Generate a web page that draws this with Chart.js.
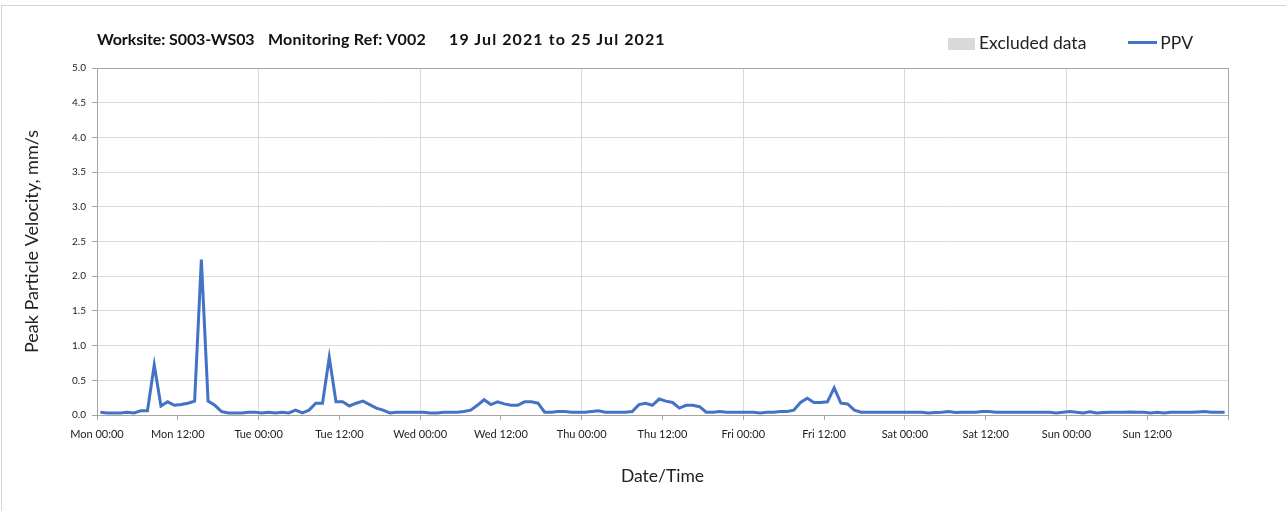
<!DOCTYPE html>
<html>
<head>
<meta charset="utf-8">
<script src="https://cdn.jsdelivr.net/npm/chart.js@4.4.1/dist/chart.umd.min.js"></script>
<style>
  html, body { margin: 0; padding: 0; background: #fff; }
  body { width: 1286px; height: 511px; position: relative; overflow: hidden; font-family: Lato, "Open Sans", sans-serif; }
  #frame { position: absolute; left: 1px; top: 5px; width: 1290px; height: 520px; border-left: 1px solid #d6d6d6; border-top: 1px solid #d6d6d6; }
  .tt { position: absolute; top: 29px; font-size: 16px; font-weight: bold; color: #111; white-space: nowrap; }
  #legend { position: absolute; left: 948px; top: 32px; font-size: 17.5px; color: #222; white-space: nowrap; }
  #legend .box { display: inline-block; width: 27px; height: 12px; background: #d9d9d9; vertical-align: -1px; margin-right: 4px; }
  #legend .ln { display: inline-block; width: 29px; height: 3px; background: #4472c4; vertical-align: 5px; margin-left: 42px; margin-right: 3px; }
  #wrap { position: absolute; left: 0; top: 0; width: 1286px; height: 511px; }
</style>
</head>
<body>
<div id="frame"></div>
<div id="wrap"><canvas id="myChart"></canvas></div>
<div class="tt" style="left:97px;letter-spacing:-0.1px">Worksite: S003-WS03</div>
<div class="tt" style="left:268px;letter-spacing:0.2px">Monitoring Ref: V002</div>
<div class="tt" style="left:449px;letter-spacing:1.1px">19 Jul 2021 to 25 Jul 2021</div>
<div id="legend"><span class="box"></span>Excluded data<span class="ln"></span>PPV</div>
<script>
(function () {
  'use strict';

  // hourly PPV readings, Mon 19 Jul 00:00 -> Sun 25 Jul 24:00 (mm/s)
  var days = ['Mon', 'Tue', 'Wed', 'Thu', 'Fri', 'Sat', 'Sun', 'Mon'];
  var yTicks = [0, 0.5, 1, 1.5, 2, 2.5, 3, 3.5, 4, 4.5, 5];
  var ppvMon = [0.04, 0.03, 0.03, 0.03, 0.04, 0.03, 0.06, 0.06, 0.72, 0.13, 0.19, 0.14,
                0.15, 0.17, 0.20, 2.24, 0.20, 0.14, 0.05, 0.03, 0.03, 0.03, 0.04, 0.04];
  var ppvTue = [0.03, 0.04, 0.03, 0.04, 0.03, 0.07, 0.03, 0.07, 0.17, 0.17, 0.83, 0.19,
                0.19, 0.13, 0.17, 0.20, 0.15, 0.10, 0.07, 0.03, 0.04, 0.04, 0.04, 0.04];
  var ppvWed = [0.04, 0.03, 0.03, 0.04, 0.04, 0.04, 0.05, 0.07, 0.14, 0.22, 0.15, 0.19,
                0.16, 0.14, 0.14, 0.19, 0.19, 0.17, 0.04, 0.04, 0.05, 0.05, 0.04, 0.04];
  var ppvThu = [0.04, 0.05, 0.06, 0.04, 0.04, 0.04, 0.04, 0.05, 0.15, 0.17, 0.14, 0.23,
                0.20, 0.18, 0.10, 0.14, 0.14, 0.12, 0.04, 0.04, 0.05, 0.04, 0.04, 0.04];
  var ppvFri = [0.04, 0.04, 0.03, 0.04, 0.04, 0.05, 0.05, 0.07, 0.18, 0.24, 0.18, 0.18,
                0.19, 0.39, 0.17, 0.16, 0.07, 0.04, 0.04, 0.04, 0.04, 0.04, 0.04, 0.04];
  var ppvSat = [0.04, 0.04, 0.04, 0.03, 0.035, 0.04, 0.05, 0.035, 0.04, 0.04, 0.04, 0.05,
                0.05, 0.04, 0.04, 0.04, 0.04, 0.04, 0.04, 0.04, 0.04, 0.04, 0.03, 0.04];
  var ppvSun = [0.05, 0.04, 0.03, 0.045, 0.03, 0.035, 0.04, 0.04, 0.04, 0.045, 0.04, 0.04,
                0.03, 0.04, 0.03, 0.04, 0.04, 0.04, 0.04, 0.045, 0.05, 0.04, 0.04, 0.04];

  var ppv = [].concat(ppvMon, ppvTue, ppvWed, ppvThu, ppvFri, ppvSat, ppvSun);
  var points = ppv.map(function (v, i) { return { x: i + 0.5, y: v }; });

  var frameBox = {
    id: 'frameBox',
    afterDraw: function (chart) {
      var a = chart.chartArea, c = chart.ctx;
      c.save();
      c.strokeStyle = '#a6a6a6';
      c.lineWidth = 1;
      c.strokeRect(Math.round(a.left) + 0.5, Math.round(a.top) + 0.5, Math.round(a.right - a.left), Math.round(a.bottom - a.top));
      c.restore();
    }
  };

  var ctx = document.getElementById('myChart').getContext('2d');
  var myChart = new Chart(ctx, {
    type: 'line',
    data: {
      datasets: [{
        label: 'PPV',
        data: points,
        borderColor: '#4472c4',
        borderWidth: 3,
        pointRadius: 0,
        tension: 0,
        fill: false
      }]
    },
    plugins: [frameBox],
    options: {
      responsive: false,
      animation: false,
      maintainAspectRatio: false,
      layout: { padding: { top: 68, right: 58, left: 0, bottom: 0 } },
      plugins: {
        legend: { display: false },
        title: { display: false },
        tooltip: { enabled: false }
      },
      scales: {
        x: {
          type: 'linear',
          min: 0,
          max: 168,
          afterFit: function (s) { s.height = 96; },
          ticks: {
            stepSize: 12,
            autoSkip: false,
            maxRotation: 0,
            padding: 8,
            color: '#222',
            font: { family: 'Lato', size: 11 },
            callback: function (v) {
              if (v >= 168) return '';
              return days[Math.floor(v / 24)] + (v % 24 === 0 ? ' 00:00' : ' 12:00');
            }
          },
          grid: {
            color: function (c) { return (c.tick && c.tick.value % 24 === 0) ? '#d9d9d9' : 'rgba(0,0,0,0)'; },
            tickColor: '#a6a6a6',
            tickLength: 5,
            lineWidth: 1
          },
          border: { color: '#a6a6a6' },
          title: {
            display: true,
            text: 'Date/Time',
            color: '#222',
            font: { family: 'Lato', size: 17.5 },
            padding: { top: 0, bottom: 24 }
          }
        },
        y: {
          min: 0,
          max: 5,
          afterFit: function (s) { s.width = 97; },
          afterBuildTicks: function (s) { s.ticks = yTicks.map(function (v) { return { value: v }; }); },
          ticks: {
            padding: 6,
            color: '#222',
            font: { family: 'Lato', size: 10 },
            callback: function (v) { return v.toFixed(1); }
          },
          grid: { color: '#d9d9d9', tickColor: '#a6a6a6', tickLength: 5 },
          border: { color: '#a6a6a6' },
          title: {
            display: true,
            text: 'Peak Particle Velocity, mm/s',
            color: '#222',
            font: { family: 'Lato', size: 18 },
            padding: { top: 21, bottom: 0 }
          }
        }
      }
    }
  });
  myChart.resize(1286, 511);
})();
</script>
</body>
</html>
